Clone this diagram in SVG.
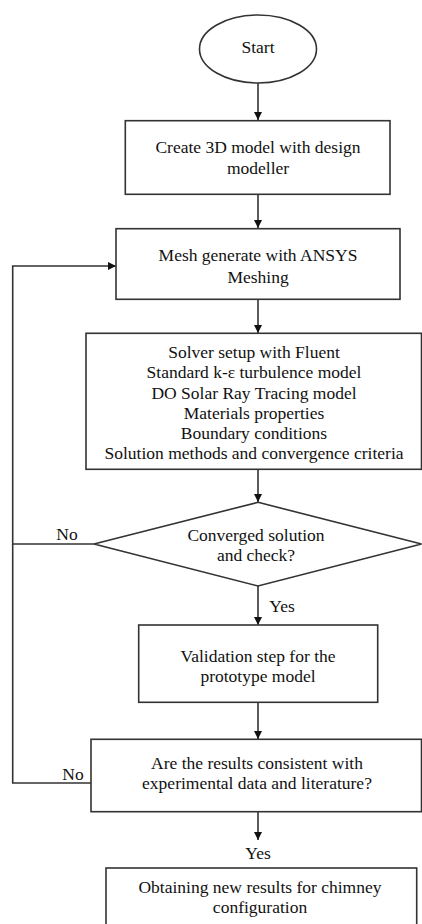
<svg xmlns="http://www.w3.org/2000/svg" width="422" height="924" viewBox="0 0 422 924">
<defs>
<style>
.n{fill:#fff;stroke:#333;stroke-width:1.6}
.t{font-family:"Liberation Serif","Times New Roman",serif;font-size:17.5px;fill:#111;text-anchor:middle}
.c{fill:none;stroke:#333;stroke-width:1.6}
</style>
<marker id="ah2" viewBox="0 0 10 10" refX="10" refY="5" markerWidth="8" markerHeight="8" markerUnits="userSpaceOnUse" orient="auto"><path d="M0,0L10,5L0,10z" fill="#111"/></marker>
</defs>
<rect width="422" height="924" fill="#fff"/>
<g id="connectors">
<path class="c" d="M258,83V120" marker-end="url(#ah2)"/>
<path class="c" d="M258,194V228" marker-end="url(#ah2)"/>
<path class="c" d="M258,299V333" marker-end="url(#ah2)"/>
<path class="c" d="M258,469V502" marker-end="url(#ah2)"/>
<path class="c" d="M258,586V625" marker-end="url(#ah2)"/>
<path class="c" d="M258,702V739" marker-end="url(#ah2)"/>
<path class="c" d="M258,812V840" stroke-width="2.2" marker-end="url(#ah2)"/>
<path class="c" d="M94,544H12.7V266H116" marker-end="url(#ah2)"/>
<path class="c" d="M91,783H12.7V544"/>
<text class="t" x="67" y="540">No</text>
<text class="t" x="73" y="780">No</text>
<text class="t" x="282" y="612">Yes</text>
<text class="t" x="258" y="859">Yes</text>
</g>
<g id="start">
<ellipse class="n" cx="258" cy="49" rx="58.5" ry="34"/>
<text class="t" x="258" y="53">Start</text>
</g>
<g id="create">
<rect class="n" x="125.3" y="120.7" width="264.7" height="73.6"/>
<text class="t" x="258" y="153">Create 3D model with design</text>
<text class="t" x="258" y="174">modeller</text>
</g>
<g id="mesh">
<rect class="n" x="116" y="228.7" width="284" height="70.6"/>
<text class="t" x="258" y="261">Mesh generate with ANSYS</text>
<text class="t" x="258" y="283">Meshing</text>
</g>
<g id="solver">
<rect class="n" x="86" y="333.3" width="335.5" height="136"/>
<text class="t" x="254" y="358">Solver setup with Fluent</text>
<text class="t" x="254" y="378">Standard k-ε turbulence model</text>
<text class="t" x="254" y="399">DO Solar Ray Tracing model</text>
<text class="t" x="254" y="419">Materials properties</text>
<text class="t" x="254" y="439">Boundary conditions</text>
<text class="t" x="254" y="459">Solution methods and convergence criteria</text>
</g>
<g id="check">
<path class="n" d="M258,502.3L421.5,544L258,586L94,544Z"/>
<text class="t" x="256" y="541">Converged solution</text>
<text class="t" x="256" y="561">and check?</text>
</g>
<g id="validation">
<rect class="n" x="138.7" y="625" width="239" height="77.3"/>
<text class="t" x="258" y="662">Validation step for the</text>
<text class="t" x="258" y="682">prototype model</text>
</g>
<g id="consistent">
<rect class="n" x="91" y="739.3" width="330.5" height="72.4"/>
<text class="t" x="257" y="769">Are the results consistent with</text>
<text class="t" x="257" y="789">experimental data and literature?</text>
</g>
<g id="obtain">
<rect class="n" x="106" y="868" width="310.7" height="70" stroke-width="2.4"/>
<text class="t" x="260" y="893">Obtaining new results for chimney</text>
<text class="t" x="260" y="913">configuration</text>
</g>
</svg>
